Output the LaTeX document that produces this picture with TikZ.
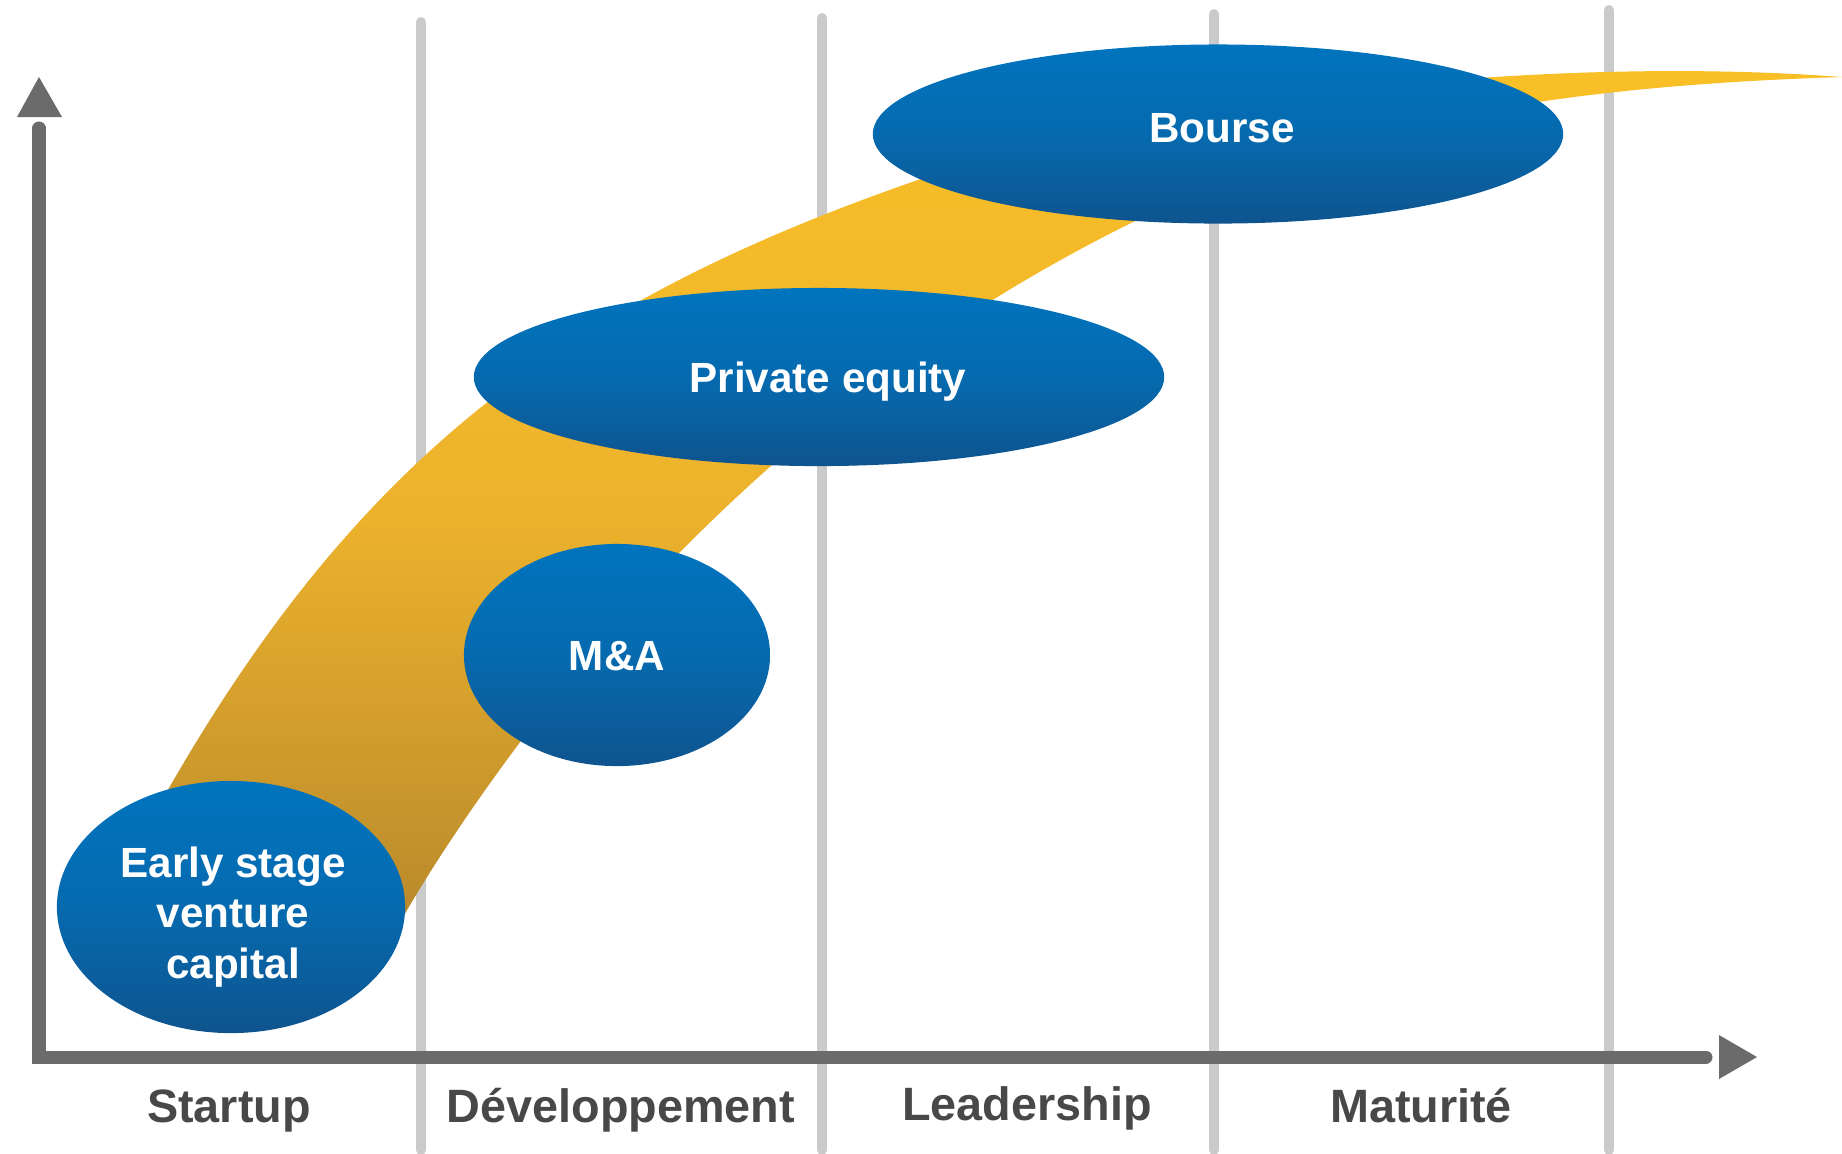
\documentclass[tikz,border=0pt]{standalone}
\usepackage{fontspec}
\setmainfont{Liberation Sans}
\usetikzlibrary{shapes.geometric}
\definecolor{axisgray}{RGB}{107,107,107}
\definecolor{gridgray}{RGB}{202,202,202}
\definecolor{labelgray}{RGB}{72,72,72}
\definecolor{bluetop}{RGB}{0,116,190}
\definecolor{bluemid}{RGB}{6,106,175}
\definecolor{bluebot}{RGB}{14,84,142}
\definecolor{goldtop}{RGB}{250,192,38}
\definecolor{goldmid}{RGB}{236,178,44}
\definecolor{goldbot}{RGB}{178,132,44}
\begin{document}
\begin{tikzpicture}[x=0.01cm, y=-0.01cm,
  gridline/.style={draw=gridgray, line width=0.1cm, line cap=round},
  axisline/.style={draw=axisgray, line width=0.13cm, line cap=round, line join=miter},
  axishead/.style={fill=axisgray},
  ribbon/.style={top color=goldtop, bottom color=goldbot, middle color=goldmid},
  blob/.style={ellipse, inner sep=0pt, outer sep=0pt, top color=bluetop, bottom color=bluebot, middle color=bluemid, text=white, font=\bfseries\fontsize{12}{14.4}\selectfont, text height=8.6pt, text depth=0pt},
  blobtext/.style={text=white, font=\bfseries\fontsize{12}{14.4}\selectfont, align=center, inner sep=0pt},
  stage/.style={text=labelgray, font=\bfseries\fontsize{13.3}{16}\selectfont, anchor=base, inner sep=0pt},
]
\useasboundingbox (0,0) rectangle (1842,1153);

% vertical separators
\coordinate (g1t) at (421,22);   \coordinate (g1b) at (421,1150);
\coordinate (g2t) at (822,18);   \coordinate (g2b) at (822,1150);
\coordinate (g3t) at (1214,14);  \coordinate (g3b) at (1214,1150);
\coordinate (g4t) at (1609,10);  \coordinate (g4b) at (1609,1150);
\draw[gridline] (g1t) -- (g1b);
\draw[gridline] (g2t) -- (g2b);
\draw[gridline] (g3t) -- (g3b);
\draw[gridline] (g4t) -- (g4b);

% ribbon
\coordinate (rbl) at (140,840);
\coordinate (rmid) at (912,182);
\coordinate (rtip) at (1842,77);
\coordinate (rlo1) at (1127,225);
\coordinate (rlo2) at (685,547);
\coordinate (rbr) at (370,980);
\shade[ribbon] (rbl)
  .. controls (340,470) and (552,308) .. (rmid)
  .. controls (1162,95) and (1550,55) .. (rtip)
  .. controls (1592,85) and (1347,115) .. (rlo1)
  .. controls (977,300) and (835,397) .. (rlo2)
  .. controls (585,647) and (430,850) .. (rbr)
  -- cycle;

% ellipses
\node[blob, minimum width=3.48cm, minimum height=2.52cm] (es) at (231,907) {};
\node[blobtext] (estext) at (233,917) {Early stage\\venture\\capital};
\node[blob, minimum width=3.06cm, minimum height=2.22cm] (ma) at (617,655) {M\&A};
\node[blob, minimum width=6.9cm, minimum height=1.78cm] (pe) at (819,377) {\hspace*{0.18cm}Private equity};
\node[blob, minimum width=6.9cm, minimum height=1.79cm] (bo) at (1218,134) {\hspace*{0.08cm}\raisebox{0.07cm}{Bourse}};

% axes
\coordinate (O) at (39,1057);
\coordinate (ytop) at (39,128);
\coordinate (xend) at (1706,1057);
\draw[axisline] (ytop) -- (O) -- (xend);
\fill[axishead] (39,77) -- (62,117) -- (17,117) -- cycle;
\fill[axishead] (1719,1035) -- (1757,1057) -- (1719,1079) -- cycle;

% stage labels
\node[stage] (s1) at (229,1122) {Startup};
\node[stage] (s2) at (621,1122) {Développement};
\node[stage] (s3) at (1027,1120) {Leadership};
\node[stage] (s4) at (1421,1122) {Maturité};
\end{tikzpicture}
\end{document}
